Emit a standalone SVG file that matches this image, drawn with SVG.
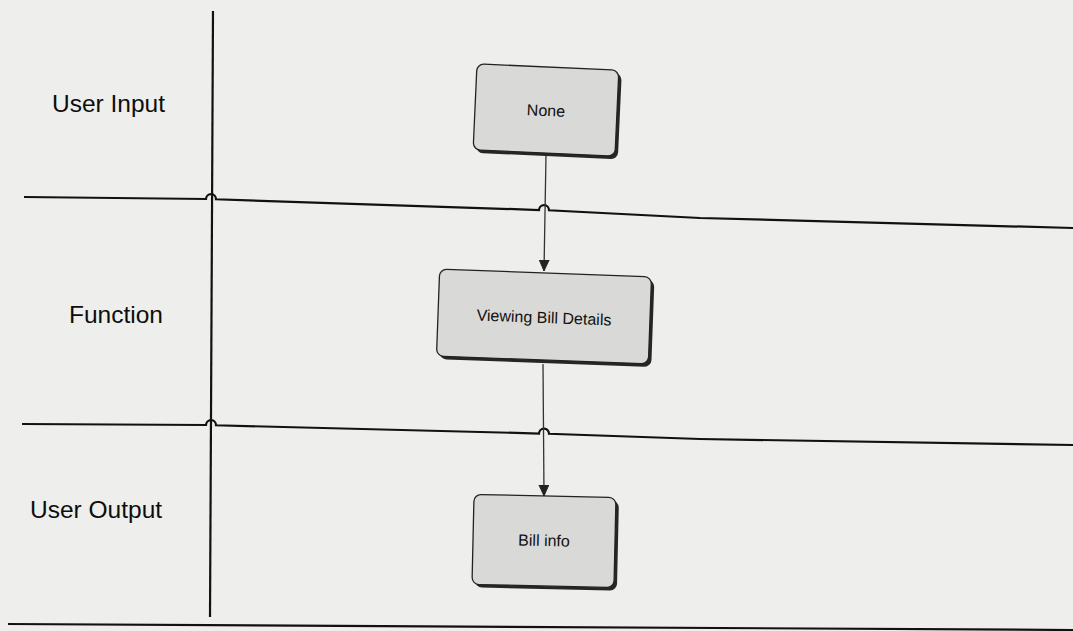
<svg xmlns="http://www.w3.org/2000/svg" width="1073" height="631" viewBox="0 0 1073 631">
  <defs>
    <style>
      .lane { fill: none; stroke: #111; stroke-width: 2.2; }
      .lbl { font-family: "Liberation Sans", Arial, sans-serif; font-size: 24.5px; fill: #0d0d0d; }
      .box { fill: #d9d9d7; stroke: #222; stroke-width: 1.3; }
      .shadow { fill: #262626; }
      .ntxt { font-family: "Liberation Sans", Arial, sans-serif; font-size: 16px; fill: #101010; text-anchor: middle; }
      .conn { fill: none; stroke: #333; stroke-width: 1.3; }
    </style>
    <marker id="arr" viewBox="0 0 10 10" refX="10" refY="5" markerWidth="11" markerHeight="11" markerUnits="userSpaceOnUse" orient="auto">
      <path d="M0,0.5 L10,5 L0,9.5 Z" fill="#222" stroke="#222" stroke-width="0.8"/>
    </marker>
  </defs>

  <rect x="0" y="0" width="1073" height="631" fill="#eeeeec"/>

  <g id="swimlanes">
    <path class="lane" d="M213,11 L210,617"/>
    <path class="lane" d="M24,197 L206,199 A5,5 0 0 1 216,199.3 L539,210 A5,5 0 0 1 549,210.3 L700,218 L1073,228"/>
    <path class="lane" d="M22,424 L206,425 A5,5 0 0 1 216,425.3 L539,433.5 A5,5 0 0 1 549,433.8 L700,439 L1073,445"/>
    <path class="lane" d="M8,624 L1073,630"/>
  </g>

  <g id="lane-labels">
    <text class="lbl" x="52" y="112">User Input</text>
    <text class="lbl" x="69" y="323">Function</text>
    <text class="lbl" x="30" y="518">User Output</text>
  </g>

  <g id="connectors">
    <path class="conn" d="M546,155 L544,271" marker-end="url(#arr)"/>
    <path class="conn" d="M543,364 L544,496" marker-end="url(#arr)"/>
  </g>

  <g id="node-none" transform="translate(546,110) rotate(2.6)">
    <rect class="shadow" x="-68" y="-40" width="142" height="86" rx="7"/>
    <rect class="box" x="-71" y="-43" width="142" height="86" rx="7"/>
    <text class="ntxt" x="0" y="6">None</text>
  </g>

  <g id="node-viewing" transform="translate(544,317) rotate(2.1)">
    <rect class="shadow" x="-103" y="-41" width="212" height="87" rx="7"/>
    <rect class="box" x="-106" y="-44" width="212" height="87" rx="7"/>
    <text class="ntxt" x="0" y="6">Viewing Bill Details</text>
  </g>

  <g id="node-billinfo" transform="translate(544,541) rotate(1.3)">
    <rect class="shadow" x="-68" y="-42" width="142" height="90" rx="7"/>
    <rect class="box" x="-71" y="-45" width="142" height="90" rx="7"/>
    <text class="ntxt" x="0" y="5">Bill info</text>
  </g>
</svg>
